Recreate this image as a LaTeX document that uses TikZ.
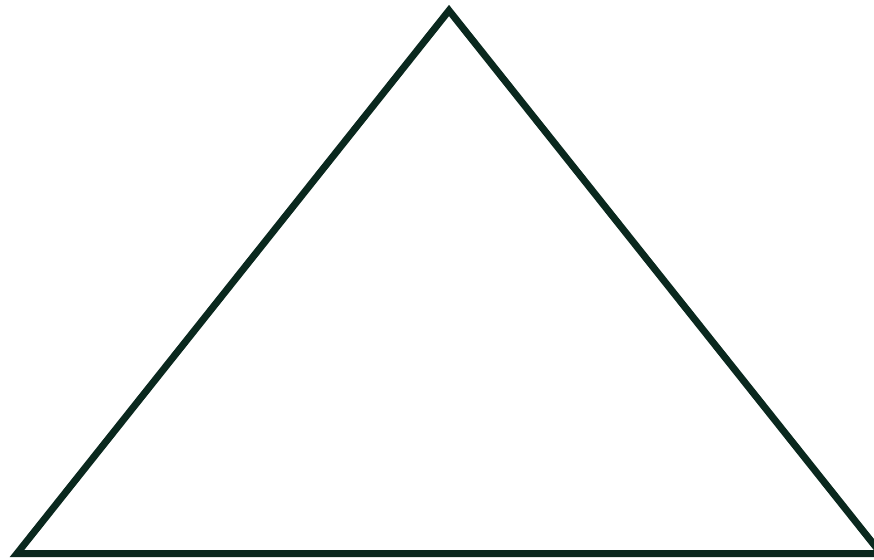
\documentclass[tikz,border=0pt]{standalone}
\usepackage{tikz}

\definecolor{edgegreen}{RGB}{10,40,30}
\tikzset{edgeline/.style={draw=edgegreen, line width=0.21cm, line join=miter}}

\begin{document}
\begin{tikzpicture}[x=0.03cm,y=0.03cm]
    \useasboundingbox (0,0) rectangle (874,559);
    \clip (0,0) rectangle (874,559);
    \coordinate (apex) at (449,548.5);
    \coordinate (left) at (17,5.5);
    \coordinate (right) at (881,5.5);
    \draw[edgeline] (apex) -- (left) -- (right) -- cycle;
\end{tikzpicture}
\end{document}
